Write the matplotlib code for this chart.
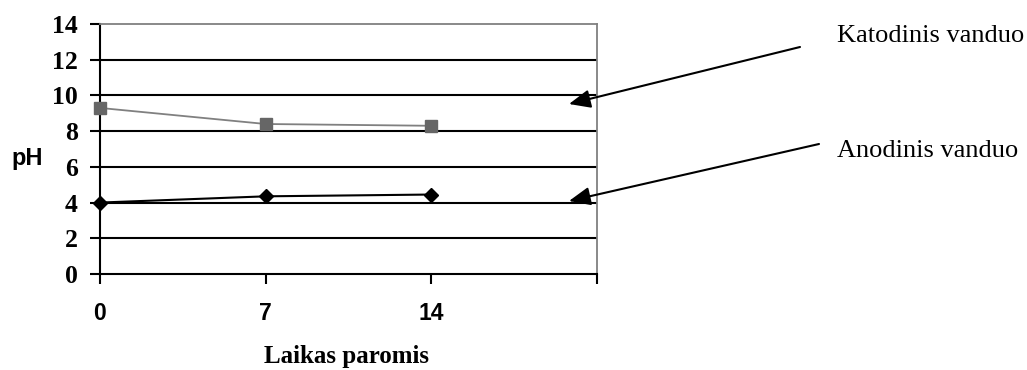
import matplotlib
matplotlib.use("Agg")
import matplotlib.pyplot as plt

# days and pH readings
days = [0, 7, 14]
katodinis = [9.3, 8.4, 8.3]
anodinis = [4.0, 4.35, 4.45]
x_ticks = [0, 7, 14, 21]
x_labels = ["0", "7", "14", ""]
y_ticks = [0, 2, 4, 6, 8, 10, 12, 14]

serif = "Liberation Serif"
sans = "Liberation Sans"

fig = plt.figure(figsize=(10.27, 3.70), dpi=100)
ax = fig.add_axes([100 / 1027, 1 - 274 / 370, 497 / 1027, 250 / 370])

for y in y_ticks[1:-1]:
    ax.axhline(y, color="black", lw=1.5, zorder=1)

ax.plot(days, katodinis, color="#808080", lw=1.3, marker="s", ms=8.5,
        mfc="#666666", mec="#666666", zorder=3, clip_on=False)
ax.plot(days, anodinis, color="black", lw=1.5, marker="D", ms=7.5,
        mfc="black", mec="black", zorder=3, clip_on=False)

ax.set_xlim(0, 21)
ax.set_ylim(0, 14)
ax.set_xticks(x_ticks)
ax.set_xticklabels(x_labels, fontfamily=sans, fontweight="bold", fontsize=16.5)
ax.set_yticks(y_ticks)
ax.set_yticklabels([str(v) for v in y_ticks], fontfamily=serif,
                   fontweight="bold", fontsize=18.5)
ax.tick_params(axis="x", length=7, width=1.5, pad=13, color="black")
ax.tick_params(axis="y", length=7, width=1.5, pad=9, color="black")

ax.spines["left"].set_color("black")
ax.spines["left"].set_linewidth(1.5)
ax.spines["bottom"].set_color("black")
ax.spines["bottom"].set_linewidth(1.5)
ax.spines["top"].set_color("#808080")
ax.spines["top"].set_linewidth(1.3)
ax.spines["right"].set_color("#808080")
ax.spines["right"].set_linewidth(1.3)

fig.text(27 / 1027, 1 - 158 / 370, "pH", fontfamily=sans, fontweight="bold",
         fontsize=17, ha="center", va="center")
fig.text(347 / 1027, 1 - 357 / 370, "Laikas paromis", fontfamily=serif,
         fontweight="bold", fontsize=18, ha="center", va="center")

fig.text(837 / 1027, 1 - 36 / 370, "Katodinis vanduo", fontfamily=serif,
         fontsize=19, ha="left", va="center")
fig.text(837 / 1027, 1 - 151 / 370, "Anodinis vanduo", fontfamily=serif,
         fontsize=19, ha="left", va="center")

arrow = dict(arrowstyle="-|>,head_length=0.65,head_width=0.28", color="black",
             lw=1.5, mutation_scale=20, shrinkA=0, shrinkB=0)
ax.annotate("", xy=(569 / 1027, 1 - 104 / 370), xytext=(800 / 1027, 1 - 47 / 370),
            xycoords="figure fraction", textcoords="figure fraction",
            arrowprops=arrow, annotation_clip=False)
ax.annotate("", xy=(569 / 1027, 1 - 201 / 370), xytext=(819 / 1027, 1 - 144 / 370),
            xycoords="figure fraction", textcoords="figure fraction",
            arrowprops=arrow, annotation_clip=False)

fig.savefig("out.png", dpi=100, facecolor="white")
